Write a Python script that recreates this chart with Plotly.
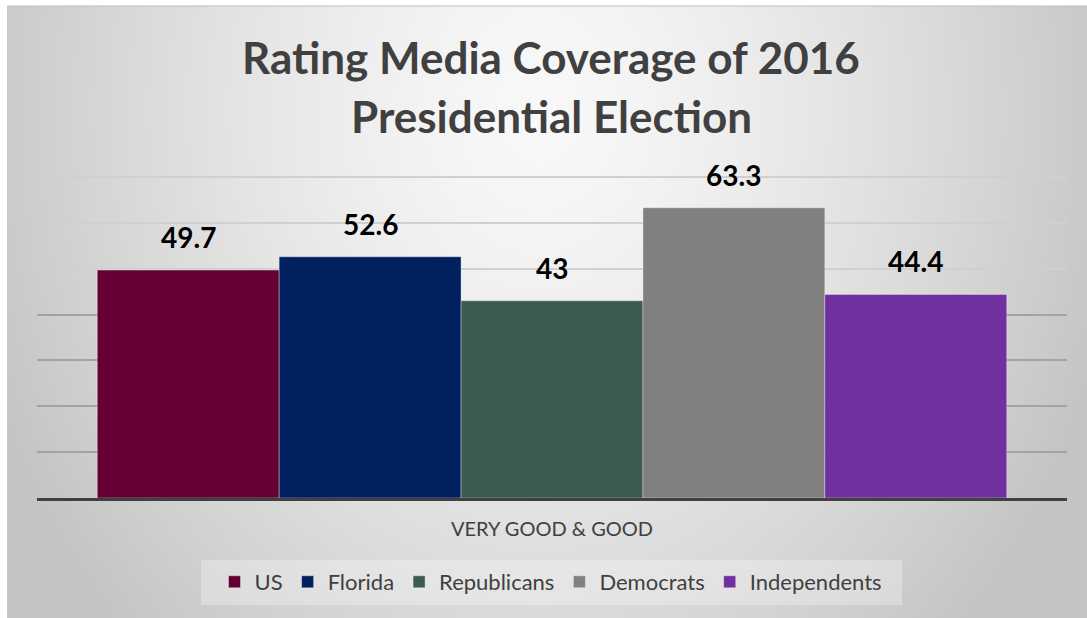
import numpy as np
import plotly.graph_objects as go

# ---- chart data ----
category = "VERY GOOD & GOOD"
groups = ["US", "Florida", "Republicans", "Democrats", "Independents"]
values = [49.7, 52.6, 43, 63.3, 44.4]
colors = ["#640033", "#002060", "#3C5A50", "#808080", "#7030A0"]
title_lines = ["Rating Media Coverage of 2016", "Presidential Election"]

W, H = 1087, 618
FONT = "Lato"
TEXT_GRAY = "#404040"
BARGAP = 0.117
Y_MAX = 71  # headroom above 70 so the top gridline is kept

fig = go.Figure()

# ---- soft radial background shading (drawn on a full-page helper axis) ----
xe = np.linspace(7, W, 271)
ye = np.linspace(6, H, 154)
xc = (xe[:-1] + xe[1:]) / 2
yc = (ye[:-1] + ye[1:]) / 2
XX, YY = np.meshgrid(xc, yc)
dist = np.sqrt(((XX - 540) / 560) ** 2 + ((YY - 110) / 700) ** 2)
shade = np.clip(248 - 48 * dist ** 1.4, 196, 255)
fig.add_trace(go.Heatmap(
    x=xe, y=ye, z=shade, xaxis="x", yaxis="y",
    colorscale=[[0, "rgb(0,0,0)"], [1, "rgb(255,255,255)"]],
    zmin=0, zmax=255, showscale=False, hoverinfo="skip", zsmooth=False,
))

# ---- bars ----
for name, val, col in zip(groups, values, colors):
    fig.add_trace(go.Bar(
        x=[category], y=[val], name=name, xaxis="x2", yaxis="y2",
        marker=dict(color=col, line=dict(color="rgba(255,255,255,0.35)", width=1)),
        hoverinfo="name+y",
    ))

# helper trace so the overlaid gridline axis is drawn
fig.add_trace(go.Scatter(x=[], y=[], xaxis="x2", yaxis="y3",
                         showlegend=False, hoverinfo="skip"))

# ---- value labels above each bar ----
n = len(groups)
bar_w = (1 - BARGAP) / n
annotations = []
for i, val in enumerate(values):
    annotations.append(dict(
        x=-(1 - BARGAP) / 2 + bar_w * (i + 0.5), y=val,
        xref="x2", yref="y2", text=f"{val:g}", showarrow=False,
        yanchor="bottom", yshift=14,
        font=dict(family=FONT, size=28, color="#000000", weight="bold"),
    ))

# ---- two-line title ----
for line, ypx in zip(title_lines, [57, 116]):
    annotations.append(dict(
        x=551 / W, y=1 - ypx / H, xref="paper", yref="paper",
        text=f"<b>{line}</b>", showarrow=False,
        xanchor="center", yanchor="middle",
        font=dict(family=FONT, size=44, color=TEXT_GRAY),
    ))

shapes = [
    # thin frame line along the top edge
    dict(type="line", xref="x", yref="y", x0=7, x1=W, y0=6, y1=6,
         line=dict(color="#bdbdbd", width=1), layer="above"),
    # lighter panel behind the legend
    dict(type="rect", xref="paper", yref="paper",
         x0=201 / W, x1=902 / W, y0=1 - 605 / H, y1=1 - 560 / H,
         fillcolor="rgba(255,255,255,0.28)", line=dict(width=0), layer="above"),
]

top_px = 177 - (Y_MAX - 70) * (498 - 177) / 70
x_dom = [37 / W, 1067 / W]
y_dom = [1 - 498 / H, 1 - top_px / H]

fig.update_layout(
    width=W, height=H,
    margin=dict(l=0, r=0, t=0, b=0),
    paper_bgcolor="#ffffff",
    plot_bgcolor="rgba(0,0,0,0)",
    barmode="group", bargap=BARGAP, bargroupgap=0,
    font=dict(family=FONT, color=TEXT_GRAY),
    xaxis=dict(domain=[0, 1], range=[0, W], visible=False, fixedrange=True),
    yaxis=dict(domain=[0, 1], range=[H, 0], visible=False, fixedrange=True),
    xaxis2=dict(
        domain=x_dom, anchor="y2", type="category",
        showline=True, linecolor="#404040", linewidth=3,
        ticks="", showgrid=False,
        tickfont=dict(family=FONT, size=20, color=TEXT_GRAY),
        ticklabelstandoff=11,
    ),
    yaxis2=dict(
        domain=y_dom, anchor="x2", range=[0, Y_MAX],
        tickvals=[50, 60, 70], showticklabels=False,
        showgrid=True, gridcolor="#d0d0d0", gridwidth=2,
        zeroline=False, showline=False,
    ),
    yaxis3=dict(
        overlaying="y2", anchor="x2", range=[0, Y_MAX],
        tickvals=[10, 20, 30, 40], showticklabels=False,
        showgrid=True, gridcolor="#a3a3a3", gridwidth=2,
        zeroline=False, showline=False,
    ),
    legend=dict(
        orientation="h", x=551 / W, xanchor="center",
        y=1 - 582 / H, yanchor="middle",
        bgcolor="rgba(0,0,0,0)",
        font=dict(family=FONT, size=22, color=TEXT_GRAY),
        itemwidth=30,
    ),
    annotations=annotations,
    shapes=shapes,
)

fig.write_html("out.html")
